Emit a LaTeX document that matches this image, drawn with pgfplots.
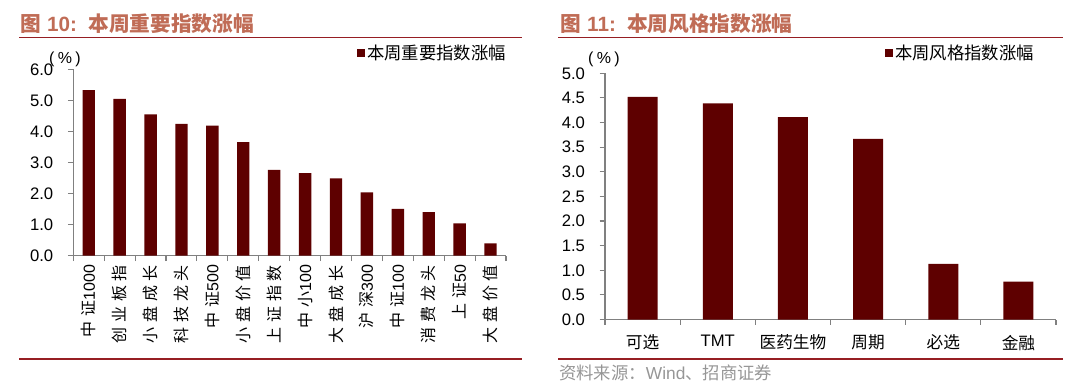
\documentclass[border=0pt]{standalone}
\usepackage{pgfplots}
\pgfplotsset{compat=1.18}
\usepackage{fontspec}
\setmainfont{Liberation Sans}
\newfontfamily\cjk{Noto Sans CJK SC}
\newfontfamily\cjksp[LetterSpace=30]{Noto Sans CJK SC}
\definecolor{barc}{RGB}{94,0,0}
\definecolor{ttl}{RGB}{192,108,86}
\definecolor{rulec}{RGB}{150,30,35}
\definecolor{axg}{RGB}{128,128,128}
\definecolor{srcg}{RGB}{150,150,150}

\pgfplotsset{
  mybars/.style={
    scale only axis,
    axis lines*=left,
    axis line style={axg, line width=0.8pt},
    tick align=outside,
    major tick length=4pt,
    tick style={axg, line width=0.8pt},
    enlargelimits=false,
    ymin=0,
    /pgf/number format/assume math mode=true,
    yticklabel shift=7.5pt,
    yticklabel style={font=\fontsize{12.5}{14}\selectfont, /pgf/number format/.cd, fixed, fixed zerofill, precision=1},
    ybar,
    legend image code/.code={\fill[##1] (0pt,-3pt) rectangle (6pt,3pt);},
    legend style={draw=none, fill=none, font=\fontsize{13}{15}\selectfont\cjk, anchor=east, nodes={inner sep=1.5pt}},
  }
}

\begin{document}
\begin{tikzpicture}[x=0.75pt, y=-0.75pt]
\path[use as bounding box] (0,0) rectangle (1080,385);

% ---- Left chart ----
\node[anchor=west, text=ttl, font=\fontsize{15.5}{17}\selectfont\bfseries, inner sep=0pt] at (20.5,24) {{\cjk 图} 10:\hspace{0.55em}{\cjk 本周重要指数涨幅}};
\draw[rulec, line width=1.3pt] (19,37.5) -- (522,37.5);
\draw[rulec, line width=1.3pt] (19,359) -- (522,359);
\node[font=\fontsize{12}{14}\selectfont, inner sep=0pt] at (65,59) {(\hspace{2.5pt}\%\hspace{2.5pt})};

\begin{axis}[mybars,
  at={(54.975pt,-191.775pt)}, anchor=south west,
  width=324.5pt, height=139.8pt,
  xmin=-0.5, xmax=13.5, ymax=6,
  bar width=9.3pt,
  ytick={0,1,...,6},
  xtick={-0.5,0.5,...,13.5}, xticklabels={},
  extra x ticks={0,1,...,13},
  extra x tick labels={{{\cjksp 中证}1000},{\cjksp 创业板指},{\cjksp 小盘成长},{\cjksp 科技龙头},{{\cjksp 中证}500},{\cjksp 小盘价值},{\cjksp 上证指数},{{\cjksp 中小}100},{\cjksp 大盘成长},{{\cjksp 沪深}300},{{\cjksp 中证}100},{\cjksp 消费龙头},{{\cjksp 上证}50},{\cjksp 大盘价值}},
  extra x tick style={major tick length=0pt, xticklabel shift=3.5pt, tick label style={rotate=90, anchor=east, font=\fontsize{12}{14}\selectfont}},
  legend style={at={(axis description cs:1.014,1.087)}},
]
\addplot[fill=barc, draw=none] coordinates {
(0,5.33) (1,5.05) (2,4.55) (3,4.24) (4,4.19) (5,3.66) (6,2.76)
(7,2.66) (8,2.49) (9,2.04) (10,1.51) (11,1.40) (12,1.04) (13,0.40)};
\addlegendentry{本周重要指数涨幅}
\end{axis}

% ---- Right chart ----
\node[anchor=west, text=ttl, font=\fontsize{15.5}{17}\selectfont\bfseries, inner sep=0pt] at (560.5,24) {{\cjk 图} 11:\hspace{0.55em}{\cjk 本周风格指数涨幅}};
\draw[rulec, line width=1.3pt] (558,37.5) -- (1063,37.5);
\draw[rulec, line width=1.3pt] (558,359) -- (1063,359);
\node[font=\fontsize{12}{14}\selectfont, inner sep=0pt] at (604,59) {(\hspace{2.5pt}\%\hspace{2.5pt})};
\node[anchor=west, text=srcg, font=\fontsize{13}{15}\selectfont, inner sep=0pt] at (559,373) {{\cjk 资料来源：}Wind{\cjk 、招商证券}};

\begin{axis}[mybars,
  at={(453.75pt,-239.625pt)}, anchor=south west,
  width=338.25pt, height=184.65pt,
  xmin=-0.5, xmax=5.5, ymax=5,
  ytick={0,0.5,...,5},
  bar width=22.5pt,
  xtick={-0.5,0.5,...,5.5}, xticklabels={},
  extra x ticks={0,1,...,5},
  extra x tick labels={{\cjk 可选},TMT,{\cjk 医药生物},{\cjk 周期},{\cjk 必选},{\cjk 金融}},
  extra x tick style={major tick length=0pt, xticklabel shift=8pt, tick label style={font=\fontsize{12.5}{14}\selectfont}},
  legend style={at={(axis description cs:0.965,1.082)}},
]
\addplot[fill=barc, draw=none] coordinates {
(0,4.52) (1,4.39) (2,4.11) (3,3.67) (4,1.13) (5,0.77)};
\addlegendentry{本周风格指数涨幅}
\end{axis}
\end{tikzpicture}
\end{document}
